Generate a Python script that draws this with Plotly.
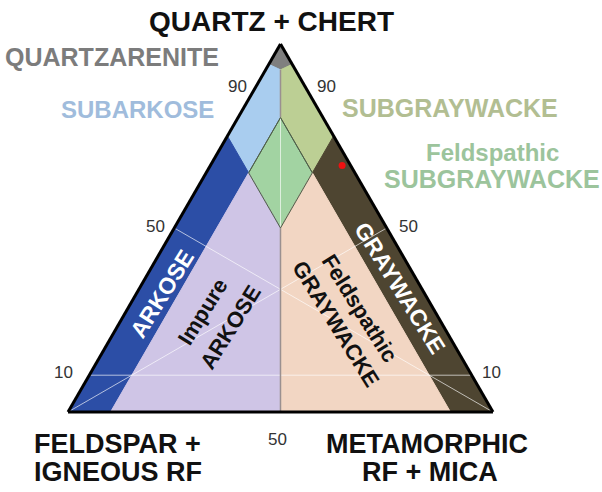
import plotly.graph_objects as go

W, H = 602, 492
FONT = "Liberation Sans, Arial, sans-serif"

# Compositions in percent: Q = quartz + chert (top), F = feldspar + igneous RF (left), R = metamorphic RF + mica (right)
quartzarenite_q = [100, 94.5, 93, 94.5]
quartzarenite_f = [0, 5.5, 3.5, 0]
quartzarenite_r = [0, 0, 3.5, 5.5]

subarkose_q = [94.5, 75, 65, 80, 93]
subarkose_f = [5.5, 25, 25, 10, 3.5]
subarkose_r = [0, 0, 10, 10, 3.5]

subgraywacke_q = [94.5, 93, 80, 65, 75]
subgraywacke_f = [0, 3.5, 10, 10, 0]
subgraywacke_r = [5.5, 3.5, 10, 25, 25]

feld_subgraywacke_q = [80, 65, 50, 65]
feld_subgraywacke_f = [10, 25, 25, 10]
feld_subgraywacke_r = [10, 10, 25, 25]

arkose_q = [75, 0, 0, 65]
arkose_f = [25, 100, 90, 25]
arkose_r = [0, 0, 10, 10]

graywacke_q = [75, 65, 0, 0]
graywacke_f = [0, 10, 10, 0]
graywacke_r = [25, 25, 90, 100]

impure_arkose_q = [65, 0, 0, 50]
impure_arkose_f = [25, 90, 50, 25]
impure_arkose_r = [10, 10, 50, 25]

feld_graywacke_q = [65, 50, 0, 0]
feld_graywacke_f = [10, 25, 50, 10]
feld_graywacke_r = [25, 25, 50, 90]

# sample
sample_q = [67]
sample_f = [2]
sample_r = [31]

# tick labels
left_tick_labels = ["90", "50", "10"]
right_tick_labels = ["90", "50", "10"]
bottom_tick_labels = ["50"]

regions = [
    (quartzarenite_q, quartzarenite_f, quartzarenite_r, "#7f7f7f", "#5f5f5f"),
    (subarkose_q, subarkose_f, subarkose_r, "#a9cdef", "#a9cdef"),
    (subgraywacke_q, subgraywacke_f, subgraywacke_r, "#bccf94", "#bccf94"),
    (feld_subgraywacke_q, feld_subgraywacke_f, feld_subgraywacke_r, "#a2d3a2", "#4f5f4a"),
    (arkose_q, arkose_f, arkose_r, "#2c4ea6", "#2c4ea6"),
    (graywacke_q, graywacke_f, graywacke_r, "#4e4531", "#4e4531"),
    (impure_arkose_q, impure_arkose_f, impure_arkose_r, "#cfc5e6", "#cfc5e6"),
    (feld_graywacke_q, feld_graywacke_f, feld_graywacke_r, "#f2d6c3", "#f2d6c3"),
]

fig = go.Figure()
for q, f, r, fc, lc in regions:
    fig.add_trace(go.Scatterternary(
        a=q + [q[0]], b=f + [f[0]], c=r + [r[0]], mode="lines", fill="toself",
        fillcolor=fc, line=dict(color=lc, width=1), hoverinfo="skip", showlegend=False))

# faint guide lines
guides = [
    ([10, 10], [90, 0], [0, 90]),          # Q = 10
    ([0, 50], [100, 0], [0, 50]),          # median from F corner
    ([0, 50], [0, 50], [100, 0]),          # median from RF corner
    ([80, 50], [10, 25], [10, 25]),        # centre line through diamond
]
for q, f, r in guides:
    fig.add_trace(go.Scatterternary(a=q, b=f, c=r, mode="lines",
                                    line=dict(color="rgba(255,255,255,0.65)", width=1),
                                    hoverinfo="skip", showlegend=False))

# centre divide lines (gray)
for q, f, r in [([93, 80], [3.5, 10], [3.5, 10]), ([50, 0], [25, 50], [25, 50])]:
    fig.add_trace(go.Scatterternary(a=q, b=f, c=r, mode="lines",
                                    line=dict(color="#9a9090", width=1.5),
                                    hoverinfo="skip", showlegend=False))

# diamond outline
fig.add_trace(go.Scatterternary(
    a=feld_subgraywacke_q + [feld_subgraywacke_q[0]],
    b=feld_subgraywacke_f + [feld_subgraywacke_f[0]],
    c=feld_subgraywacke_r + [feld_subgraywacke_r[0]],
    mode="lines", line=dict(color="#4f5f4a", width=1), hoverinfo="skip", showlegend=False))

fig.add_trace(go.Scatterternary(a=sample_q, b=sample_f, c=sample_r, mode="markers",
                                marker=dict(color="#ee1111", size=7), showlegend=False,
                                hoverinfo="skip"))

def px(x, y):
    return x / W, 1 - y / H

ann = []
def add(text, x, y, size, color, angle=0, bold=True, xanchor="center"):
    xx, yy = px(x, y)
    t = f"<b>{text}</b>" if bold else text
    ann.append(dict(text=t, x=xx, y=yy, xref="paper", yref="paper", showarrow=False,
                    xanchor=xanchor, yanchor="middle", textangle=angle, borderpad=0,
                    font=dict(family=FONT, size=size, color=color)))

add("QUARTZ + CHERT", 271, 21, 28, "#111111")
add("QUARTZARENITE", 112, 57, 25, "#7c7c7c")
add("SUBARKOSE", 137, 109, 24, "#a0bcdc")
add("SUBGRAYWACKE", 450, 108, 25, "#b2be92")
add("Feldspathic", 492, 152, 24, "#9cc49c")
add("SUBGRAYWACKE", 492, 179, 25, "#9cc49c")
add("FELDSPAR +", 33, 444, 27, "#111111", xanchor="left")
add("IGNEOUS RF", 33, 472, 27, "#111111", xanchor="left")
add("METAMORPHIC", 427, 444, 27, "#111111")
add("RF + MICA", 430, 472, 27, "#111111")

add("ARKOSE", 162, 294, 23, "white", angle=-58)
add("Impure", 202, 312, 22, "#111111", angle=-58)
add("ARKOSE", 230, 327, 22, "#111111", angle=-58)
add("GRAYWACKE", 400, 288, 23, "white", angle=58)
add("Feldspathic", 360, 308, 22, "#111111", angle=58)
add("GRAYWACKE", 336, 323, 22, "#111111", angle=58)

tick_pos_left = [(237, 86), (155, 226), (63, 372)]
tick_pos_right = [(326, 86), (408, 226), (491, 372)]
for t, (x, y) in zip(left_tick_labels, tick_pos_left):
    add(t, x, y, 17, "#333333", bold=False)
for t, (x, y) in zip(right_tick_labels, tick_pos_right):
    add(t, x, y, 17, "#333333", bold=False)
for t, (x, y) in zip(bottom_tick_labels, [(277, 439)]):
    add(t, x, y, 17, "#333333", bold=False)

axis = dict(showticklabels=False, showgrid=False, ticks="", linecolor="black",
            linewidth=3, min=0, title=dict(text=""))
fig.update_layout(
    width=W, height=H, margin=dict(l=0, r=0, t=0, b=0),
    paper_bgcolor="white", plot_bgcolor="white",
    ternary=dict(sum=100, bgcolor="white",
                 domain=dict(x=[68 / W, 493 / W], y=[(H - 412) / H, (H - 44) / H]),
                 aaxis=axis, baxis=axis, caxis=axis),
    annotations=ann, showlegend=False,
)
fig.write_html("out.html", config={"displayModeBar": False},
               post_script="document.body.style.margin='0';")
